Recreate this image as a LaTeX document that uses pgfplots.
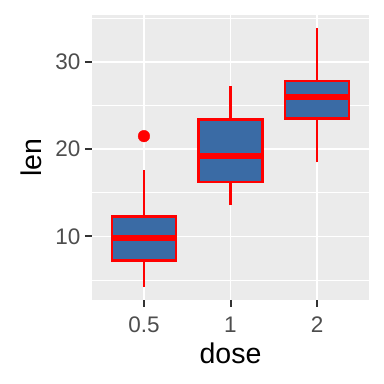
\documentclass[border=0pt]{standalone}
\usepackage{pgfplots}
\pgfplotsset{compat=1.18}
\usepackage{fontspec}
\setmainfont{Liberation Sans}
\definecolor{panel}{HTML}{EBEBEB}
\definecolor{boxblue}{HTML}{3A6BA5}
\definecolor{tickc}{HTML}{333333}
\definecolor{labc}{HTML}{4D4D4D}
\begin{document}
\begin{tikzpicture}
\path[use as bounding box] (0,0) rectangle (384bp,384bp);
\begin{axis}[
  at={(92bp,84bp)}, anchor=south west,
  scale only axis, width=277bp, height=285bp,
  xmin=0.4, xmax=3.6, ymin=2.715, ymax=35.385,
  xtick={1,2,3}, xticklabels={0.5,1,2},
  ytick={10,20,30}, minor ytick={5,15,25,35},
  xtick pos=bottom, ytick pos=left,
  grid=both,
  major grid style={white, line width=1.6bp},
  minor grid style={white, line width=0.8bp},
  axis background/.style={fill=panel},
  axis line style={draw=none},
  tick align=outside, major tick length=7bp, minor tick length=0pt,
  tick style={tickc, line width=2bp},
  /pgf/number format/assume math mode=true,
  tick label style={font=\fontsize{22.5bp}{25bp}\selectfont, text=labc},
  yticklabel style={anchor=east, xshift=-1bp},
  xticklabel style={anchor=base, yshift=-25bp},
  xlabel={dose}, ylabel={len},
  label style={font=\fontsize{28.5bp}{31bp}\selectfont, text=black},
  xlabel style={at={(axis description cs:0.5,-0.2211)}, anchor=base},
  ylabel style={at={(axis description cs:-0.2202,0.5)}, anchor=center},
  whisk/.style={red, line width=2.5bp, line cap=butt},
  boxs/.style={draw=red, fill=boxblue, line width=2.7bp, line join=miter},
  med/.style={red, line width=5.7bp, line cap=butt},
]
% dose 0.5
\addplot[whisk] coordinates {(1,4.2) (1,7.225)};
\addplot[whisk] coordinates {(1,12.25) (1,17.6)};
\addplot[boxs] coordinates {(0.63,7.225) (1.37,7.225) (1.37,12.25) (0.63,12.25)} -- cycle;
\addplot[med] coordinates {(0.63,9.85) (1.37,9.85)};
\addplot[only marks, mark=*, mark size=5.8bp, red, mark options={fill=red, draw=red}] coordinates {(1,21.5)};
% dose 1
\addplot[whisk] coordinates {(2,13.6) (2,16.25)};
\addplot[whisk] coordinates {(2,23.375) (2,27.3)};
\addplot[boxs] coordinates {(1.63,16.25) (2.37,16.25) (2.37,23.375) (1.63,23.375)} -- cycle;
\addplot[med] coordinates {(1.63,19.25) (2.37,19.25)};
% dose 2
\addplot[whisk] coordinates {(3,18.5) (3,23.525)};
\addplot[whisk] coordinates {(3,27.825) (3,33.9)};
\addplot[boxs] coordinates {(2.63,23.525) (3.37,23.525) (3.37,27.825) (2.63,27.825)} -- cycle;
\addplot[med] coordinates {(2.63,25.95) (3.37,25.95)};
\end{axis}
\end{tikzpicture}
\end{document}
